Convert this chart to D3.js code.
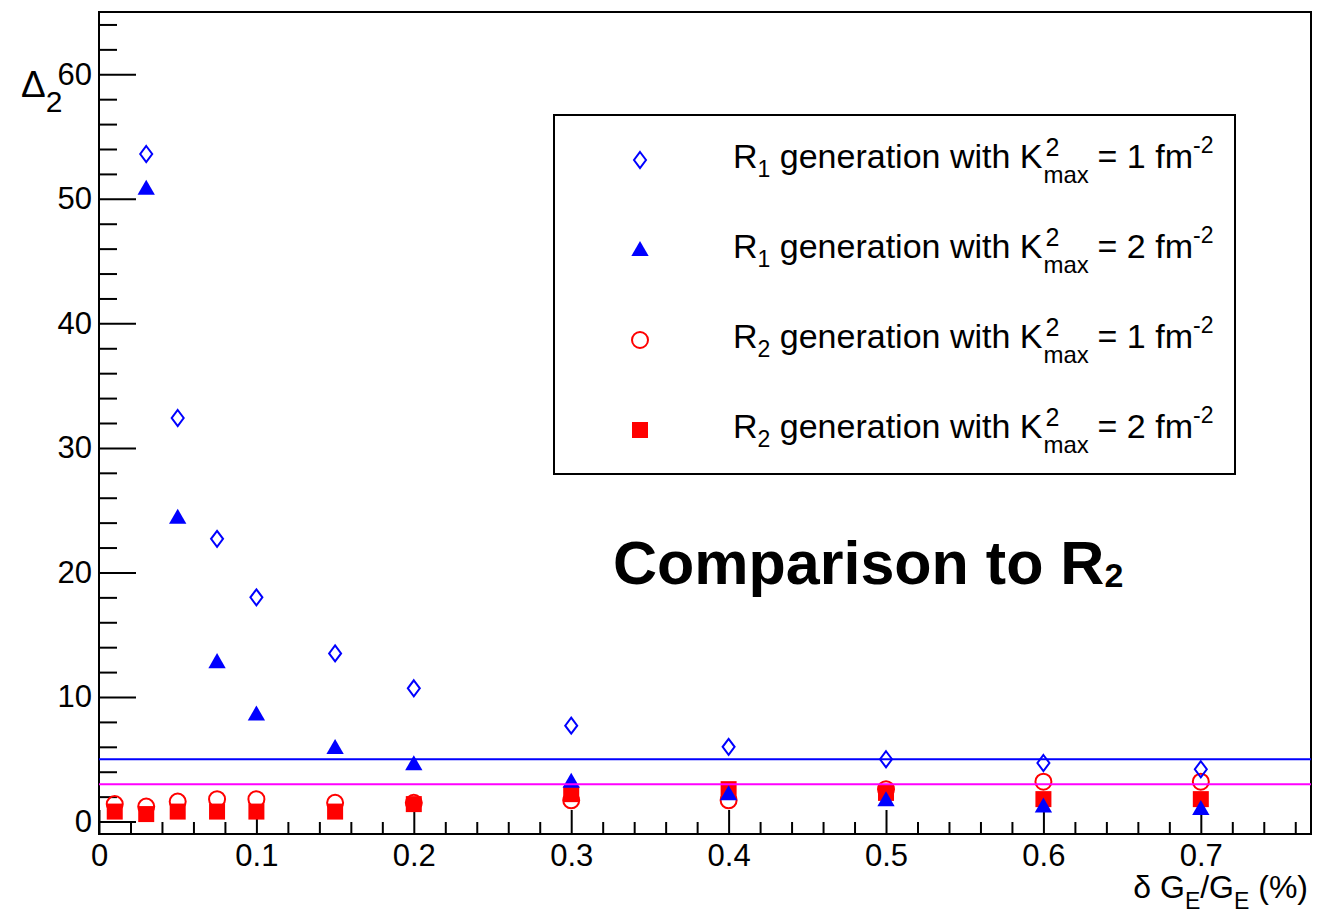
<!DOCTYPE html>
<html>
<head>
<meta charset="utf-8">
<script src="https://cdn.jsdelivr.net/npm/d3@7"></script>
<style>
  body { margin: 0; background: #fff; }
  text { font-family: "Liberation Sans", Arial, sans-serif; }
</style>
</head>
<body>
<div id="chart"><svg width="1321" height="914"></svg></div>
<script>
// data
const xVals = [0.01, 0.03, 0.05, 0.075, 0.1, 0.15, 0.2, 0.3, 0.4, 0.5, 0.6, 0.7];
const r1k1 = [null, 53.6, 32.4, 22.7, 18.0, 13.5, 10.7, 7.7, 6.0, 5.0, 4.7, 4.2];
const r1k2 = [null, 50.8, 24.4, 12.8, 8.6, 5.9, 4.6, 3.2, 2.2, 1.7, 1.2, 1.0];
const r2k1 = [1.4, 1.2, 1.6, 1.8, 1.8, 1.5, 1.5, 1.7, 1.7, 2.6, 3.2, 3.2];
const r2k2 = [0.8, 0.6, 0.8, 0.8, 0.8, 0.8, 1.4, 2.2, 2.6, 2.3, 1.8, 1.8];
const refLines = [5, 3];
const xMajor = [0, 0.1, 0.2, 0.3, 0.4, 0.5, 0.6, 0.7];
const yMajor = [0, 10, 20, 30, 40, 50, 60];
const legendRows = [
    {sub: "1", k: "1"},
    {sub: "1", k: "2"},
    {sub: "2", k: "1"},
    {sub: "2", k: "2"}
];

const svg = d3.select("#chart svg");
const pLeft = 99, pRight = 1311, pTop = 12, pBottom = 834;

const x = d3.scaleLinear().domain([0, 0.77]).range([pLeft, pRight]);
const y = d3.scaleLinear().domain([-1, 65]).range([pBottom, pTop]);

svg.append("rect").attr("width", 1321).attr("height", 914).attr("fill", "#fff");

svg.append("clipPath").attr("id", "plot")
    .append("rect")
    .attr("x", pLeft).attr("y", pTop)
    .attr("width", pRight - pLeft).attr("height", pBottom - pTop);

// minor ticks
const xMinor = d3.range(0.02, 0.771, 0.02).filter(v => Math.abs(v * 10 - Math.round(v * 10)) > 1e-6);
const yMinor = d3.range(2, 65, 2).filter(v => v % 10 !== 0);

svg.append("g")
    .attr("transform", `translate(0,${pBottom})`)
    .call(d3.axisBottom(x).tickValues(xMinor).tickSizeInner(-12).tickSizeOuter(0).tickFormat(""))
    .call(g => g.select(".domain").remove());
svg.append("g")
    .attr("transform", `translate(${pLeft},0)`)
    .call(d3.axisLeft(y).tickValues(yMinor).tickSizeInner(-18).tickSizeOuter(0).tickFormat(""))
    .call(g => g.select(".domain").remove());

// major ticks + labels
const xAxis = svg.append("g")
    .attr("transform", `translate(0,${pBottom})`)
    .call(d3.axisBottom(x).tickValues(xMajor).tickSizeInner(-24).tickSizeOuter(0).tickPadding(10)
        .tickFormat(d => d === 0 ? "0" : d3.format(".1f")(d)));
xAxis.select(".domain").remove();

const yAxis = svg.append("g")
    .attr("transform", `translate(${pLeft},0)`)
    .call(d3.axisLeft(y).tickValues(yMajor).tickSizeInner(-37).tickSizeOuter(0).tickPadding(7));
yAxis.select(".domain").remove();

svg.selectAll(".tick line").attr("stroke", "#000").attr("stroke-width", 2);
svg.selectAll(".tick text")
    .attr("font-family", "Liberation Sans, Arial, sans-serif")
    .attr("font-size", 31).attr("fill", "#000");

// frame
svg.append("rect")
    .attr("x", pLeft).attr("y", pTop)
    .attr("width", pRight - pLeft).attr("height", pBottom - pTop)
    .attr("fill", "none").attr("stroke", "#000").attr("stroke-width", 2);

// markers
const plot = svg.append("g").attr("clip-path", "url(#plot)");

function pts(vals) {
    return xVals.map((d, i) => ({x: d, v: vals[i]})).filter(d => d.v !== null);
}

plot.selectAll(".circ").data(pts(r2k1)).join("circle")
    .attr("cx", d => x(d.x)).attr("cy", d => y(d.v)).attr("r", 8)
    .attr("fill", "none").attr("stroke", "#ff0000").attr("stroke-width", 2);

plot.selectAll(".sq").data(pts(r2k2)).join("rect")
    .attr("x", d => x(d.x) - 8).attr("y", d => y(d.v) - 8)
    .attr("width", 16).attr("height", 16).attr("fill", "#ff0000");

const triangle = d3.symbol().type(d3.symbolTriangle).size(130);
plot.selectAll(".tri").data(pts(r1k2)).join("path")
    .attr("d", triangle)
    .attr("transform", d => `translate(${x(d.x)},${y(d.v) + 1})`)
    .attr("fill", "#0000ff");

const diamond = "M0,-8L6,0L0,8L-6,0Z";
plot.selectAll(".dia").data(pts(r1k1)).join("path")
    .attr("d", diamond)
    .attr("transform", d => `translate(${x(d.x)},${y(d.v)})`)
    .attr("fill", "none").attr("stroke", "#0000ff").attr("stroke-width", 2);

// reference lines
plot.selectAll(".ref").data(refLines).join("line")
    .attr("x1", pLeft).attr("x2", pRight)
    .attr("y1", d => y(d)).attr("y2", d => y(d))
    .attr("stroke", (d, i) => i === 0 ? "#0000ff" : "#ff00ff")
    .attr("stroke-width", 2);

// axis titles
const yt = svg.append("text").attr("x", 21).attr("y", 97).attr("font-size", 37).attr("fill", "#000");
yt.append("tspan").text("Δ");
yt.append("tspan").attr("font-size", 30).attr("dy", 15).text("2");

const xt = svg.append("text").attr("x", 1308).attr("y", 898).attr("text-anchor", "end")
    .attr("font-size", 32).attr("fill", "#000");
xt.append("tspan").text("δ G");
xt.append("tspan").attr("font-size", 23).attr("dy", 11).text("E");
xt.append("tspan").attr("dy", -11).text("/G");
xt.append("tspan").attr("font-size", 23).attr("dy", 11).text("E");
xt.append("tspan").attr("dy", -11).text(" (%)");

// legend
svg.append("rect")
    .attr("x", 554).attr("y", 115).attr("width", 681).attr("height", 359)
    .attr("fill", "#fff").attr("stroke", "#000").attr("stroke-width", 2);

const rowY = d3.scalePoint().domain(d3.range(legendRows.length)).range([160, 430]);
const mx = 640;
svg.append("path").attr("d", diamond)
    .attr("transform", `translate(${mx},${rowY(0)})`)
    .attr("fill", "none").attr("stroke", "#0000ff").attr("stroke-width", 2);
svg.append("path").attr("d", triangle)
    .attr("transform", `translate(${mx},${rowY(1) + 1})`).attr("fill", "#0000ff");
svg.append("circle").attr("cx", mx).attr("cy", rowY(2)).attr("r", 8)
    .attr("fill", "none").attr("stroke", "#ff0000").attr("stroke-width", 2);
svg.append("rect").attr("x", mx - 8).attr("y", rowY(3) - 8)
    .attr("width", 16).attr("height", 16).attr("fill", "#ff0000");

legendRows.forEach((r, i) => {
    const t = svg.append("text").attr("x", 733).attr("y", rowY(i) + 8)
        .attr("font-size", 34).attr("fill", "#000");
    t.append("tspan").text("R");
    t.append("tspan").attr("font-size", 23).attr("dy", 9).text(r.sub);
    t.append("tspan").attr("dy", -9).text(" generation with K");
    const kx = t.node().getComputedTextLength() + 733;
    svg.append("text").attr("x", kx + 3).attr("y", rowY(i) - 4)
        .attr("font-size", 25).attr("fill", "#000").text("2");
    svg.append("text").attr("x", kx + 1).attr("y", rowY(i) + 23)
        .attr("font-size", 24).attr("fill", "#000").text("max");
    const t2 = svg.append("text").attr("x", kx + 55).attr("y", rowY(i) + 8)
        .attr("font-size", 34).attr("fill", "#000");
    t2.append("tspan").text("= " + r.k + " fm");
    t2.append("tspan").attr("font-size", 23).attr("dy", -15).text("-2");
});

// annotation
const ann = svg.append("text").attr("x", 613).attr("y", 584)
    .attr("font-family", "'Open Sans', Lato, sans-serif")
    .attr("font-weight", 700).attr("font-size", 61).attr("fill", "#000");
ann.append("tspan").text("Comparison to R");
ann.append("tspan").attr("font-size", 34).attr("dy", 3).text("2");
</script>
</body>
</html>
